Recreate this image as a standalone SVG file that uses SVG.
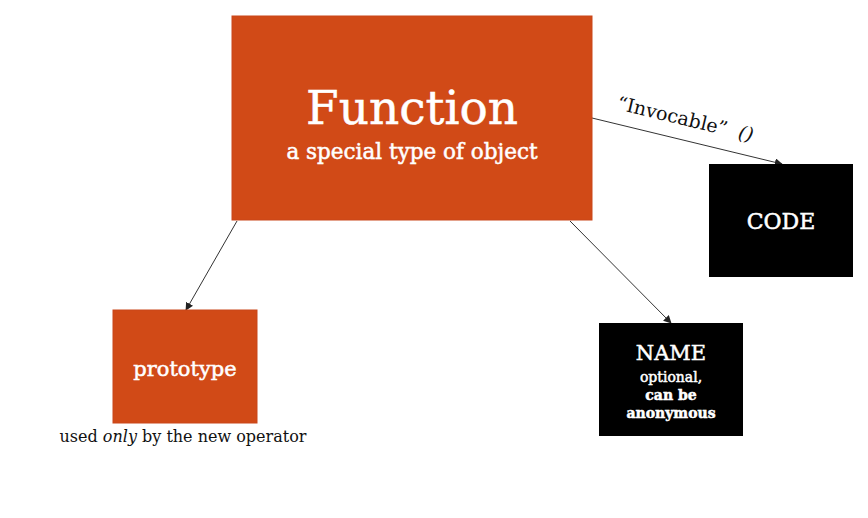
<svg xmlns="http://www.w3.org/2000/svg" width="868" height="518" viewBox="0 0 868 518">
<defs>
<marker id="ah" viewBox="0 0 10 10" refX="9" refY="5" markerWidth="8" markerHeight="8" markerUnits="userSpaceOnUse" orient="auto">
<path d="M0,0 L10,5 L0,10 z" fill="#222"/>
</marker>
<style>
.orange{fill:#D14A17;stroke:#C9461A;stroke-width:1}
.black{fill:#000}
.wt{fill:#fff;stroke:#fff;stroke-width:0.5;font-family:"DejaVu Serif",serif;text-anchor:middle}
.bt{fill:#111;font-family:"DejaVu Serif",serif}
.conn line{stroke:#333;stroke-width:1;marker-end:url(#ah)}
</style>
</defs>
<rect width="868" height="518" fill="#fff"/>
<g class="conn" id="connectors">
<line x1="237" y1="221" x2="186" y2="310"/>
<line x1="570" y1="221" x2="671" y2="323"/>
<line x1="592" y1="118" x2="782" y2="164"/>
</g>
<g id="function">
<rect class="orange" x="232" y="16" width="360" height="204"/>
<text class="wt" x="412" y="124" font-size="47">Function</text>
<text class="wt" x="412" y="159" font-size="21.5">a special type of object</text>
</g>
<g id="code">
<rect class="black" x="709" y="164" width="144" height="113"/>
<text class="wt" x="781" y="229" font-size="22">CODE</text>
</g>
<g id="prototype">
<rect class="orange" x="113" y="310" width="144" height="113"/>
<text class="wt" x="185" y="376" font-size="21">prototype</text>
</g>
<g id="name">
<rect class="black" x="599" y="323" width="144" height="113"/>
<text class="wt" x="671" y="360" font-size="21">NAME</text>
<text class="wt" x="671" y="382" font-size="14" stroke-width="0.3">optional,</text>
<text class="wt" x="671" y="400" font-size="14" font-weight="bold" stroke-width="0">can be</text>
<text class="wt" x="671" y="418" font-size="14" font-weight="bold" stroke-width="0">anonymous</text>
</g>
<text class="bt" x="183" y="442" font-size="16" text-anchor="middle">used <tspan font-style="italic">only</tspan> by the new operator</text>
<text class="bt" font-size="19" transform="translate(616,109) rotate(13.5)">“Invocable”<tspan dx="12" font-style="italic">()</tspan></text>
</svg>
